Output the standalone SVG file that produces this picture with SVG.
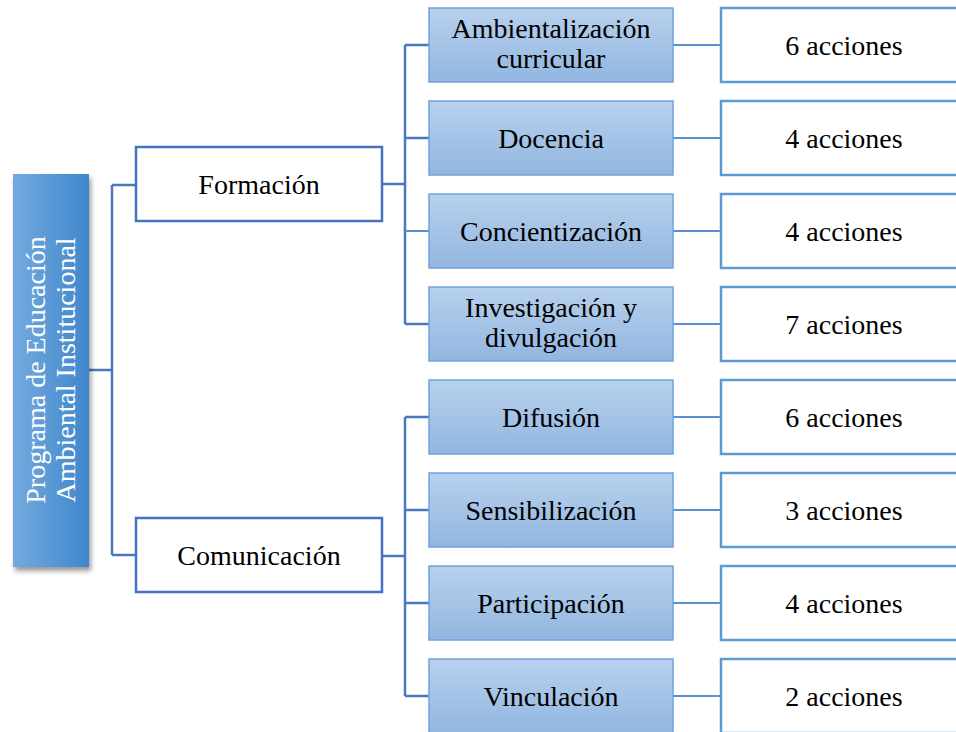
<svg xmlns="http://www.w3.org/2000/svg" width="956" height="732" viewBox="0 0 956 732">
<defs>
<linearGradient id="gMid" x1="0" y1="0" x2="0" y2="1">
<stop offset="0" stop-color="#b8d1ed"/>
<stop offset="1" stop-color="#92b6e0"/>
</linearGradient>
<linearGradient id="gRoot" x1="0" y1="0" x2="1" y2="0">
<stop offset="0" stop-color="#74aade"/>
<stop offset="1" stop-color="#3f87cc"/>
</linearGradient>
<filter id="sh" x="-20%" y="-10%" width="150%" height="120%">
<feDropShadow dx="2" dy="4" stdDeviation="2.5" flood-color="#000" flood-opacity="0.4"/>
</filter>
</defs>
<style>
text{font-family:"Liberation Serif","Times New Roman",serif;font-size:28px;fill:#000;text-anchor:middle}
.mid{fill:url(#gMid);stroke:#6fa3da;stroke-width:1.5}
.leaf{fill:#fff;stroke:#5b9bd5;stroke-width:2.5}
.cat{fill:#fff;stroke:#4472c4;stroke-width:2.5}
.c{fill:none;stroke:#4a78bd;stroke-width:2.5}
.c2{fill:none;stroke:#5b8fd0;stroke-width:2}
</style>
<g id="connectors">
<path class="c" d="M89 370H112M112 185V555M112 185H136M112 555H136"/>
<path class="c" d="M382 184H405M405 45V324M405 45H429M405 138H429M405 324H429"/>
<path class="c2" d="M405 231H429" stroke-width="1"/>
<path class="c" d="M382 556H405M405 417V696M405 417H429M405 510H429M405 603H429M405 696H429"/>
<path class="c2" d="M673 45H721M673 138H721M673 231H721M673 324H721M673 417H721M673 510H721M673 603H721M673 696H721"/>
</g>
<g id="root">
<rect x="13" y="174" width="76" height="393" fill="url(#gRoot)" filter="url(#sh)"/>
<g transform="translate(51,370) rotate(-90)">
<text x="0" y="-6" style="fill:#fff">Programa de Educación</text>
<text x="0" y="24" style="fill:#fff">Ambiental Institucional</text>
</g>
</g>
<g id="formacion"><rect class="cat" x="136" y="147" width="246" height="74"/><text x="259" y="194">Formación</text></g>
<g id="comunicacion"><rect class="cat" x="136" y="518" width="246" height="74"/><text x="259" y="565">Comunicación</text></g>
<g id="ambientalizacion"><rect class="mid" x="429" y="8" width="244" height="74"/><text x="551" y="38">Ambientalización</text><text x="551" y="68">curricular</text></g>
<g id="docencia"><rect class="mid" x="429" y="101" width="244" height="74"/><text x="551" y="148">Docencia</text></g>
<g id="concientizacion"><rect class="mid" x="429" y="194" width="244" height="74"/><text x="551" y="241">Concientización</text></g>
<g id="investigacion"><rect class="mid" x="429" y="287" width="244" height="74"/><text x="551" y="317">Investigación y</text><text x="551" y="347">divulgación</text></g>
<g id="difusion"><rect class="mid" x="429" y="380" width="244" height="74"/><text x="551" y="427">Difusión</text></g>
<g id="sensibilizacion"><rect class="mid" x="429" y="473" width="244" height="74"/><text x="551" y="520">Sensibilización</text></g>
<g id="participacion"><rect class="mid" x="429" y="566" width="244" height="74"/><text x="551" y="613">Participación</text></g>
<g id="vinculacion"><rect class="mid" x="429" y="659" width="244" height="74"/><text x="551" y="706">Vinculación</text></g>
<g id="a1"><rect class="leaf" x="721" y="8" width="260" height="74"/><text x="844" y="55">6 acciones</text></g>
<g id="a2"><rect class="leaf" x="721" y="101" width="260" height="74"/><text x="844" y="148">4 acciones</text></g>
<g id="a3"><rect class="leaf" x="721" y="194" width="260" height="74"/><text x="844" y="241">4 acciones</text></g>
<g id="a4"><rect class="leaf" x="721" y="287" width="260" height="74"/><text x="844" y="334">7 acciones</text></g>
<g id="a5"><rect class="leaf" x="721" y="380" width="260" height="74"/><text x="844" y="427">6 acciones</text></g>
<g id="a6"><rect class="leaf" x="721" y="473" width="260" height="74"/><text x="844" y="520">3 acciones</text></g>
<g id="a7"><rect class="leaf" x="721" y="566" width="260" height="74"/><text x="844" y="613">4 acciones</text></g>
<g id="a8"><rect class="leaf" x="721" y="659" width="260" height="74"/><text x="844" y="706">2 acciones</text></g>
</svg>
